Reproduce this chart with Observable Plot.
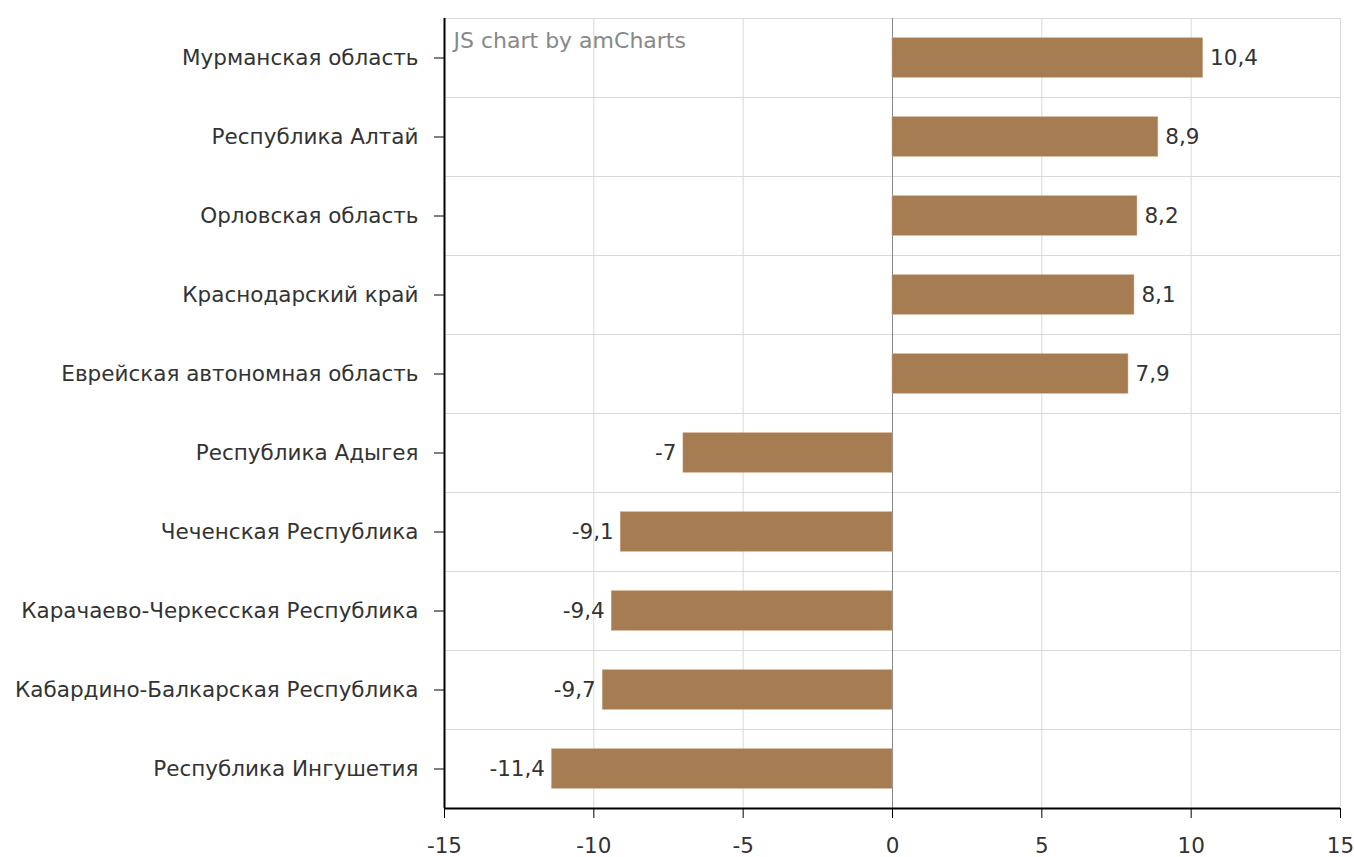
<!DOCTYPE html>
<html>
<head>
<meta charset="utf-8">
<script src="https://cdn.jsdelivr.net/npm/d3@7"></script>
<script src="https://cdn.jsdelivr.net/npm/@observablehq/plot@0.6"></script>
<style>
  html, body { margin: 0; padding: 0; background: #fff; }
  #chart svg { display: block; }
</style>
</head>
<body>
<div id="chart"></div>
<script>
const regions = [
  "Мурманская область",
  "Республика Алтай",
  "Орловская область",
  "Краснодарский край",
  "Еврейская автономная область",
  "Республика Адыгея",
  "Чеченская Республика",
  "Карачаево-Черкесская Республика",
  "Кабардино-Балкарская Республика",
  "Республика Ингушетия"
];
const values = [10.4, 8.9, 8.2, 8.1, 7.9, -7, -9.1, -9.4, -9.7, -11.4];
const xTicks = [-15, -10, -5, 0, 5, 10, 15];
const watermark = "JS chart by amCharts";

const data = regions.map((name, i) => ({name, value: values[i], i}));
const fmt = v => String(v).replace(".", ",");
const rowCenters = regions.map((_, i) => i + 0.5);
const rowEdges = d3.range(regions.length + 1);

const font = "DejaVu Sans, Verdana, sans-serif";
const fs = 21.5;
const textColor = "#333";

const chart = Plot.plot({
  width: 1354,
  height: 857,
  marginTop: 18,
  marginBottom: 49,
  marginLeft: 444,
  marginRight: 14,
  style: {fontFamily: font, fontSize: fs + "px", color: "#000", background: "#fff"},
  x: {domain: [-15, 15]},
  y: {domain: [0, regions.length], reverse: true},
  marks: [
    Plot.gridX(xTicks, {stroke: "#d9d9d9", strokeOpacity: 1}),
    Plot.gridY(rowEdges, {stroke: "#d9d9d9", strokeOpacity: 1}),
    Plot.ruleX([0], {stroke: "#888", strokeWidth: 1}),
    Plot.rectX(data, {x1: 0, x2: "value", y1: d => d.i + 0.25, y2: d => d.i + 0.75, fill: "#a67c52", stroke: "#c9a27c", strokeWidth: 0.5}),
    Plot.text(data.filter(d => d.value > 0), {x: "value", y: d => d.i + 0.5, text: d => fmt(d.value), textAnchor: "start", dx: 7, fill: textColor, fontSize: fs}),
    Plot.text(data.filter(d => d.value < 0), {x: "value", y: d => d.i + 0.5, text: d => fmt(d.value), textAnchor: "end", dx: -7, fill: textColor, fontSize: fs}),
    Plot.ruleX([-15], {stroke: "#000", strokeWidth: 2}),
    Plot.ruleY([regions.length], {stroke: "#000", strokeWidth: 2}),
    Plot.axisX(xTicks, {tickSize: 10, tickPadding: 19, tickFormat: d => String(d), fontSize: fs, stroke: "#000", fill: textColor, label: null}),
    Plot.axisY(rowCenters, {tickSize: 10, tickPadding: 16, tickFormat: d => regions[Math.floor(d)], fontSize: fs, stroke: "#000", fill: textColor, label: null}),
    Plot.text([watermark], {frameAnchor: "top-left", dx: 9, dy: 14, fill: "#888", fontSize: 22, textAnchor: "start"})
  ]
});
document.getElementById("chart").appendChild(chart);
</script>
</body>
</html>
